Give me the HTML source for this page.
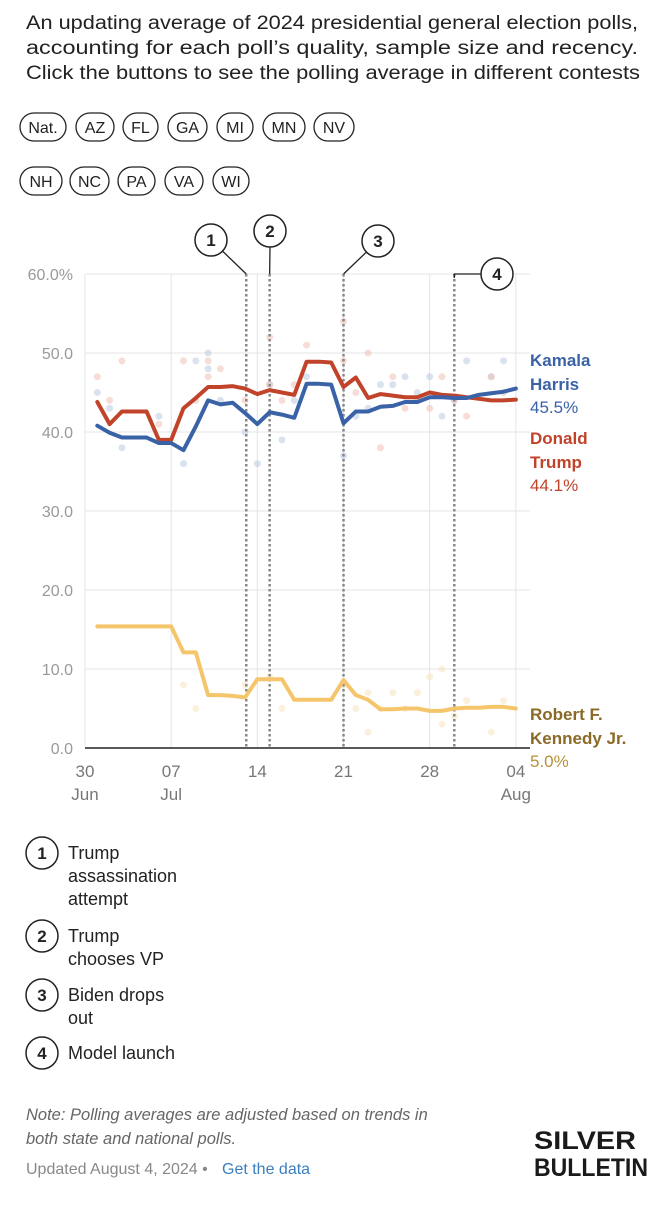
<!DOCTYPE html>
<html><head><meta charset="utf-8">
<style>
html,body{margin:0;padding:0;background:#fff;}
body{width:671px;height:1200px;overflow:hidden;font-family:"Liberation Sans",sans-serif;}
svg text{font-family:"Liberation Sans",sans-serif;}
</style></head>
<body>
<svg id="chart" width="671" height="1200" viewBox="0 0 671 1200" xmlns="http://www.w3.org/2000/svg">
<g font-size="19" fill="#222">
<text x="26" y="29" textLength="612" lengthAdjust="spacingAndGlyphs">An updating average of 2024 presidential general election polls,</text>
<text x="26" y="54" textLength="612" lengthAdjust="spacingAndGlyphs">accounting for each poll’s quality, sample size and recency.</text>
<text x="26" y="79" textLength="614" lengthAdjust="spacingAndGlyphs">Click the buttons to see the polling average in different contests</text>
</g>
<g id="buttons"></g>
<g id="grid"></g>
<g id="dots"></g>
<g id="events"></g>
<g id="lines"></g>
<g id="axes"></g>
<g font-size="17">
<text x="530" y="366" fill="#3a62a6" font-weight="bold">Kamala</text>
<text x="530" y="390" fill="#3a62a6" font-weight="bold">Harris</text>
<text x="530" y="413" fill="#3a62a6">45.5%</text>
<text x="530" y="444" fill="#c0432a" font-weight="bold">Donald</text>
<text x="530" y="468" fill="#c0432a" font-weight="bold">Trump</text>
<text x="530" y="491" fill="#c0432a">44.1%</text>
<text x="530" y="720" fill="#8a6a26" font-weight="bold">Robert F.</text>
<text x="530" y="744" fill="#8a6a26" font-weight="bold">Kennedy Jr.</text>
<text x="530" y="767" fill="#b8913a">5.0%</text>
</g>
<g id="legend" font-size="18" fill="#222"></g>
<g>
<text x="26" y="1120" font-size="16.5" font-style="italic" fill="#666">Note: Polling averages are adjusted based on trends in</text>
<text x="26" y="1144" font-size="16.5" font-style="italic" fill="#666">both state and national polls.</text>
<text x="26" y="1174" font-size="16" fill="#888">Updated August 4, 2024 •</text>
<text x="222" y="1174" font-size="16" fill="#3a7fc0">Get the data</text>
<text x="585" y="1149" font-size="25" font-weight="bold" fill="#1a1a1a" text-anchor="middle" textLength="102" lengthAdjust="spacingAndGlyphs">SILVER</text>
<text x="591" y="1176" font-size="25" font-weight="bold" fill="#1a1a1a" text-anchor="middle" textLength="114" lengthAdjust="spacingAndGlyphs">BULLETIN</text>
</g>
</svg>
<script>
const harris=[40.8,39.9,39.3,39.3,39.3,38.6,38.6,37.7,40.7,44.0,43.5,43.7,42.4,41.0,42.5,42.2,41.8,46.1,46.1,46.0,41.1,42.6,42.6,43.2,43.3,43.8,43.8,44.4,44.4,44.3,44.3,44.7,44.9,45.1,45.5];
const trump=[43.8,41.0,42.6,42.6,42.6,39.0,39.0,43.0,44.3,45.7,45.7,45.8,45.5,44.8,45.3,45.0,44.7,48.9,48.9,48.8,45.7,46.9,44.3,44.8,44.6,44.4,44.4,45.0,44.7,44.6,44.4,44.2,44.0,44.0,44.1];
const rfk=[15.4,15.4,15.4,15.4,15.4,15.4,15.4,12.1,12.1,6.7,6.7,6.6,6.4,8.7,8.7,8.7,6.1,6.1,6.1,6.1,8.6,6.7,6.1,4.9,4.9,5.0,5.0,4.7,4.7,5.0,5.1,5.1,5.2,5.2,5.0];
const harrisPollDays=[1,2,3,6,8,9,10,10,11,13,14,15,16,17,18,21,22,23,24,25,26,27,28,29,30,31,33,34];
const harrisPollVals=[45,43,38,42,36,49,50,48,44,40,36,46,39,44,47,37,42,43,46,46,47,45,47,42,44,49,47,49];
const trumpPollDays=[1,2,3,6,8,9,10,10,11,13,15,15,16,17,18,21,21,22,23,24,25,26,27,28,29,30,31,33,34];
const trumpPollVals=[47,44,49,41,49,44,49,47,48,44,52,46,44,46,51,54,49,45,50,38,47,43,44,43,47,44,42,47,45];
const rfkPollDays=[8,9,13,15,16,21,22,23,23,24,25,26,27,28,29,29,30,31,33,34];
const rfkPollVals=[8,5,8,9,5,8,5,7,2,5,7,5,7,9,10,3,4,6,2,6];
const yTicks=[0,10,20,30,40,50,60];
const yTickLabels=["0.0","10.0","20.0","30.0","40.0","50.0","60.0%"];
const xTickDays=[0,7,14,21,28,35];
const xTickLabels=["30","07","14","21","28","04"];
const xTickSub=["Jun","Jul","","","","Aug"];
const eventDays=[13.1,15,21,30];
const eventNames=["Trump assassination attempt","Trump chooses VP","Biden drops out","Model launch"];
const buttonLabels=["Nat.","AZ","FL","GA","MI","MN","NV","NH","NC","PA","VA","WI"];

const NS="http://www.w3.org/2000/svg";
const X=d=>85+d*12.31;
const Y=v=>748-v*7.9;
function mk(tag,attrs,parent){const e=document.createElementNS(NS,tag);for(const k in attrs)e.setAttribute(k,attrs[k]);parent.appendChild(e);return e;}

// buttons
const bg=document.getElementById('buttons');
const bx=[[20,46],[76,38],[123,35],[168,39],[217,36],[263,42],[314,40],[20,42],[70,39],[118,37],[165,38],[213,36]];
buttonLabels.forEach((l,i)=>{
  const row=i<7?0:1;const y=row?167:113;
  const g=mk('g',{},bg);
  
  
  mk('rect',{x:bx[i][0],y:y,width:bx[i][1],height:28,rx:14,fill:'#fff',stroke:'#222','stroke-width':1.3},g);
  const t=mk('text',{x:bx[i][0]+bx[i][1]/2,y:y+20,'text-anchor':'middle','font-size':16,fill:'#222'},g);
  t.textContent=l;
});

// grid
const gg=document.getElementById('grid');
yTicks.forEach(v=>{ if(v>0){const l=mk('line',{x1:85,x2:530,y1:Y(v),y2:Y(v),stroke:'#e4e4e4','stroke-width':1},gg);}});
xTickDays.forEach(d=>{const l=mk('line',{x1:X(d),x2:X(d),y1:Y(60),y2:Y(0),stroke:'#e4e4e4','stroke-width':1},gg);});

// dots
const dg=document.getElementById('dots');
function dots(days,vals,color,name){days.forEach((d,i)=>{const c=mk('circle',{cx:X(d),cy:Y(vals[i]),r:3.5,fill:color,opacity:0.5},dg);});}
dots(harrisPollDays,harrisPollVals,'#b7c5df','harris-poll-dot');
dots(trumpPollDays,trumpPollVals,'#efbcb0','trump-poll-dot');
dots(rfkPollDays,rfkPollVals,'#f7e1b8','rfk-poll-dot');

// events
const eg=document.getElementById('events');
const circ=[[211,240],[270,231],[378,241],[497,274]];
eventDays.forEach((d,i)=>{
  const x=X(d);
  const l=mk('line',{x1:x,x2:x,y1:Y(60),y2:Y(0),stroke:'#888','stroke-width':2.5,'stroke-dasharray':'2.5,2.5'},eg);
  
  const [cx,cy]=circ[i];
  let lx1,ly1;
  if(i===3){lx1=cx-16;ly1=cy;}else if(i===1){lx1=cx;ly1=cy+16;}else{const dx=x-cx,dy=Y(60)-cy,len=Math.hypot(dx,dy);lx1=cx+dx/len*16;ly1=cy+dy/len*16;}
  const c1=mk('polyline',{points:i===3?`${lx1},${ly1} ${x},${ly1} ${x},${ly1+4}`:`${lx1},${ly1} ${x},${Y(60)}`,fill:'none',stroke:'#222','stroke-width':1.3},eg);
  
  const g=mk('g',{},eg);
  mk('circle',{cx:cx,cy:cy,r:16,fill:'#fff',stroke:'#222','stroke-width':1.5},g);
  const t=mk('text',{x:cx,y:cy+6,'text-anchor':'middle','font-size':17,'font-weight':'bold',fill:'#222'},g);t.textContent=String(i+1);
});

// lines
const lg=document.getElementById('lines');
function line(vals,color,name){const p=mk('polyline',{points:vals.map((v,i)=>X(i+1)+','+Y(v)).join(' '),fill:'none',stroke:color,'stroke-width':4,'stroke-linejoin':'round','stroke-linecap':'round'},lg);}
line(rfk,'#f5c56c','rfk-line');
line(trump,'#c0432a','trump-line');
line(harris,'#3a62a6','harris-line');

// axes
const ag=document.getElementById('axes');
const base=mk('line',{x1:85,x2:530,y1:Y(0),y2:Y(0),stroke:'#222','stroke-width':1.5},ag);
yTicks.forEach((v,i)=>{const t=mk('text',{x:73,y:Y(v)+6,'text-anchor':'end','font-size':16,fill:'#999'},ag);t.textContent=yTickLabels[i];});
xTickDays.forEach((d,i)=>{const t=mk('text',{x:X(d),y:777,'text-anchor':'middle','font-size':17,fill:'#777'},ag);t.textContent=xTickLabels[i];
 if(xTickSub[i]){const s=mk('text',{x:X(d),y:800,'text-anchor':'middle','font-size':17,fill:'#777'},ag);s.textContent=xTickSub[i];}});

// legend
const lgd=document.getElementById('legend');
const legLines=[["Trump","assassination","attempt"],["Trump","chooses VP"],["Biden drops","out"],["Model launch"]];
const legY=[853,936,995,1053];
legLines.forEach((ls,i)=>{
  const g=mk('g',{},lgd);
  mk('circle',{cx:42,cy:legY[i],r:16,fill:'#fff',stroke:'#222','stroke-width':1.5},g);
  const n=mk('text',{x:42,y:legY[i]+6,'text-anchor':'middle','font-size':17,'font-weight':'bold'},g);n.textContent=String(i+1);
  ls.forEach((s,j)=>{const t=mk('text',{x:68,y:legY[i]+6+j*23},g);t.textContent=s;});
});
</script>
</body></html>
